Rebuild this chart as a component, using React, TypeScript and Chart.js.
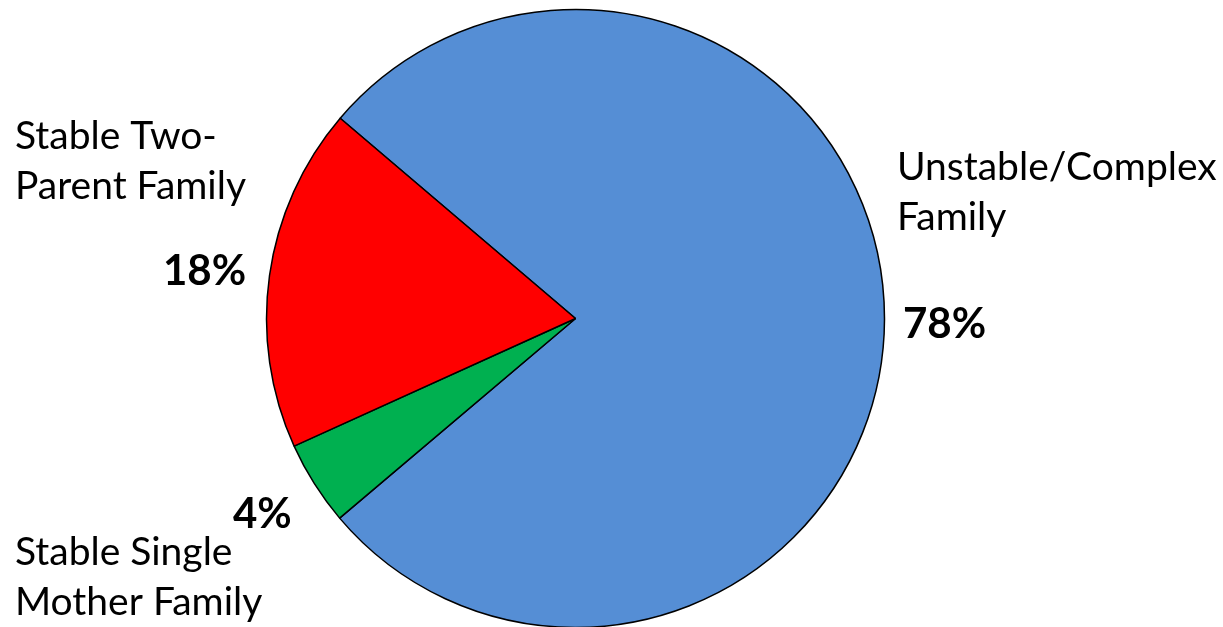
import React, { useEffect, useRef } from "react";
import { Chart, registerables } from "chart.js";

Chart.register(...registerables);

const categories = ["Unstable/Complex Family", "Stable Single Mother Family", "Stable Two-Parent Family"];
const shares = [77.6, 4.4, 18.0];
const sliceColors = ["#558ED5", "#00B050", "#FF0000"];

const nameLines = [["Unstable/Complex", "Family"], ["Stable Single", "Mother Family"], ["Stable Two-", "Parent Family"]];
const namePos = [[897, 180], [15, 565], [15, 149]];
const pctPos = [[903, 338], [233, 528], [163, 285]];

const FONT = "Lato, 'Open Sans', sans-serif";

const labelPlugin = {
  id: "sliceLabels",
  afterDraw(chart: any) {
    const ctx = chart.ctx;
    ctx.save();
    ctx.fillStyle = "#000";
    ctx.textBaseline = "alphabetic";
    ctx.textAlign = "left";
    const total = shares.reduce((a, b) => a + b, 0);
    for (let i = 0; i < categories.length; i++) {
      ctx.font = `39px ${FONT}`;
      const [x, y] = namePos[i];
      nameLines[i].forEach((t, k) => ctx.fillText(t, x, y + k * 50));
      ctx.font = `bold 42px ${FONT}`;
      const [px, py] = pctPos[i];
      ctx.fillText(Math.round((shares[i] / total) * 100) + "%", px, py);
    }
    ctx.restore();
  },
};

export default function App() {
  const ref = useRef<HTMLCanvasElement>(null);
  useEffect(() => {
    const chart = new Chart(ref.current!, {
      type: "pie",
      data: {
        labels: categories,
        datasets: [
          {
            data: shares,
            backgroundColor: sliceColors,
            borderColor: "#000",
            borderWidth: 1.5,
            radius: 309,
          } as any,
        ],
      },
      options: {
        animation: false,
        responsive: false,
        rotation: -49.6,
        layout: { padding: { left: 0, right: 72, top: 0, bottom: 0 } },
        plugins: { legend: { display: false }, tooltip: { enabled: false } },
      },
      plugins: [labelPlugin],
    });
    return () => chart.destroy();
  }, []);
  return (
    <div style={{ position: "fixed", left: 0, top: 0, width: 1223, height: 627, overflow: "hidden", background: "#fff" }}>
      <canvas ref={ref} width={1223} height={637} style={{ display: "block" }} />
    </div>
  );
}
